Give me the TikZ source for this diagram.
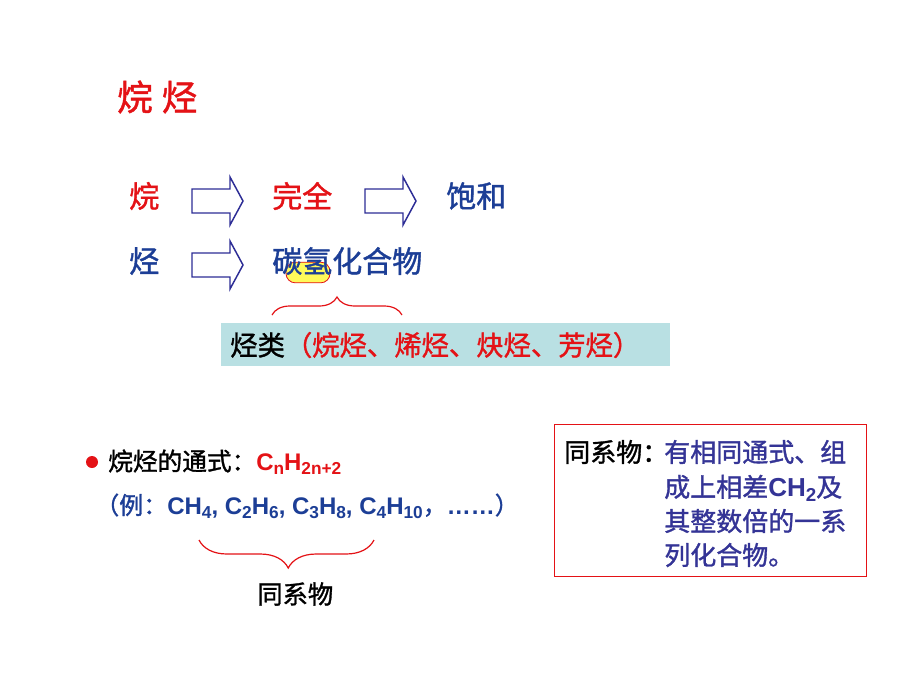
\documentclass[tikz,border=0pt]{standalone}
\usepackage{fontspec}
\setmainfont{Liberation Sans}
\newfontfamily\cjk{Noto Sans CJK SC}[FakeBold=1.3]
\newfontfamily\lat{Liberation Sans}
\usetikzlibrary{decorations.pathreplacing}
\definecolor{myred}{RGB}{228,18,22}
\definecolor{dblue}{RGB}{28,62,150}
\definecolor{pblue}{RGB}{52,52,150}
\definecolor{arrowc}{RGB}{45,45,150}
\definecolor{boxfill}{RGB}{185,224,227}
\definecolor{hlyellow}{RGB}{255,250,90}
\newcommand\fs[1]{\fontsize{#1}{#1}\selectfont}
\newcommand\sbs[1]{\raisebox{-0.32ex}{\scalebox{0.72}{#1}}}
\newcommand\barrow[2]{%
  \draw[arrowc, fill=white, line width=1.1pt, line join=miter]
    (#1,#2-12) -- (#1+38,#2-12) -- (#1+38,#2-24) -- (#1+51,#2)
    -- (#1+38,#2+24) -- (#1+38,#2+12) -- (#1,#2+12) -- cycle;}
\tikzset{
  txt/.style={anchor=west, inner sep=0pt},
  bigred/.style={txt, text=myred, font=\cjk\fs{22.5pt}},
  bigblue/.style={txt, text=dblue, font=\cjk\fs{22.5pt}},
  bracec/.style={myred, line width=0.9pt, decorate},
}
\begin{document}
\begin{tikzpicture}[x=0.75pt, y=-0.75pt]
\fill[white] (0,0) rectangle (920,690);
\useasboundingbox (0,0) rectangle (920,690);

% title
\node[txt, text=myred, font=\cjk\fs{26.5pt}] (title) at (117,97) {烷\hspace{7pt}烃};

% row 1
\node[bigred] (r1a) at (129,196) {烷};
\barrow{192}{201}
\node[bigred] (r1b) at (272,196) {完全};
\barrow{365}{201}
\node[bigblue] (r1c) at (446,196) {饱和};

% row 2
\node[bigblue] (r2a) at (129,261) {烃};
\barrow{192}{265}
\node[draw=myred, line width=0.6pt, fill=hlyellow, rounded corners=7pt,
      minimum width=33pt, minimum height=15.5pt, inner sep=0pt] (hl) at (308,272.5) {};
\node[bigblue] (r2b) at (272,261) {碳氢化合物};

% top brace
\coordinate (b1s) at (272,315);
\coordinate (b1e) at (402,315);
\draw[bracec, decoration={brace, amplitude=13.5pt, aspect=0.5}] (b1s) -- (b1e);

% class box
\node[fill=boxfill, anchor=north west, inner sep=0pt,
      minimum width=336.75pt, minimum height=32.25pt] (cls) at (221,323) {};
\node[txt, font=\cjk\fs{20.5pt}] (clstxt) at (230,345)
  {烃类\textcolor{myred}{（烷烃、烯烃、炔烃、芳烃）}};

% general formula
\node[circle, fill=myred, inner sep=0pt, minimum size=9pt] (dot) at (92,462) {};
\node[txt, font=\cjk\fs{18.5pt}] (gen) at (108,462)
  {烷烃的通式：\textcolor{myred}{\lat\fs{18pt}\bfseries C\sbs{n}H\sbs{2n+2}}};

% examples
\node[txt, text=dblue, font=\cjk\fs{18pt}] (ex) at (95,506)
  {（例：{\lat\bfseries CH\sbs{4}, C\sbs{2}H\sbs{6}, C\sbs{3}H\sbs{8}, C\sbs{4}H\sbs{10}}，{\lat\bfseries ……}）};

% bottom brace
\coordinate (b2s) at (374,540);
\coordinate (b2e) at (199,540);
\draw[bracec, decoration={brace, amplitude=21pt, aspect=0.49}] (b2s) -- (b2e);
\node[txt, font=\cjk\fs{19pt}] (tx) at (257,594) {同系物};

% definition box
\node[draw=myred, line width=0.75pt, anchor=north west, inner sep=0pt,
      minimum width=234pt, minimum height=114pt] (defbox) at (554,424) {};
\node[txt, font=\cjk\fs{19.5pt}] (d0) at (564,452) {同系物：};
\node[txt, text=pblue, font=\cjk\fs{19.5pt}] (d1) at (664,452) {有相同通式、组};
\node[txt, text=pblue, font=\cjk\fs{19.5pt}] (d2) at (664,488) {成上相差{\lat\bfseries CH\sbs{2}}及};
\node[txt, text=pblue, font=\cjk\fs{19.5pt}] (d3) at (664,521) {其整数倍的一系};
\node[txt, text=pblue, font=\cjk\fs{19.5pt}] (d4) at (664,555) {列化合物。};
\end{tikzpicture}
\end{document}
